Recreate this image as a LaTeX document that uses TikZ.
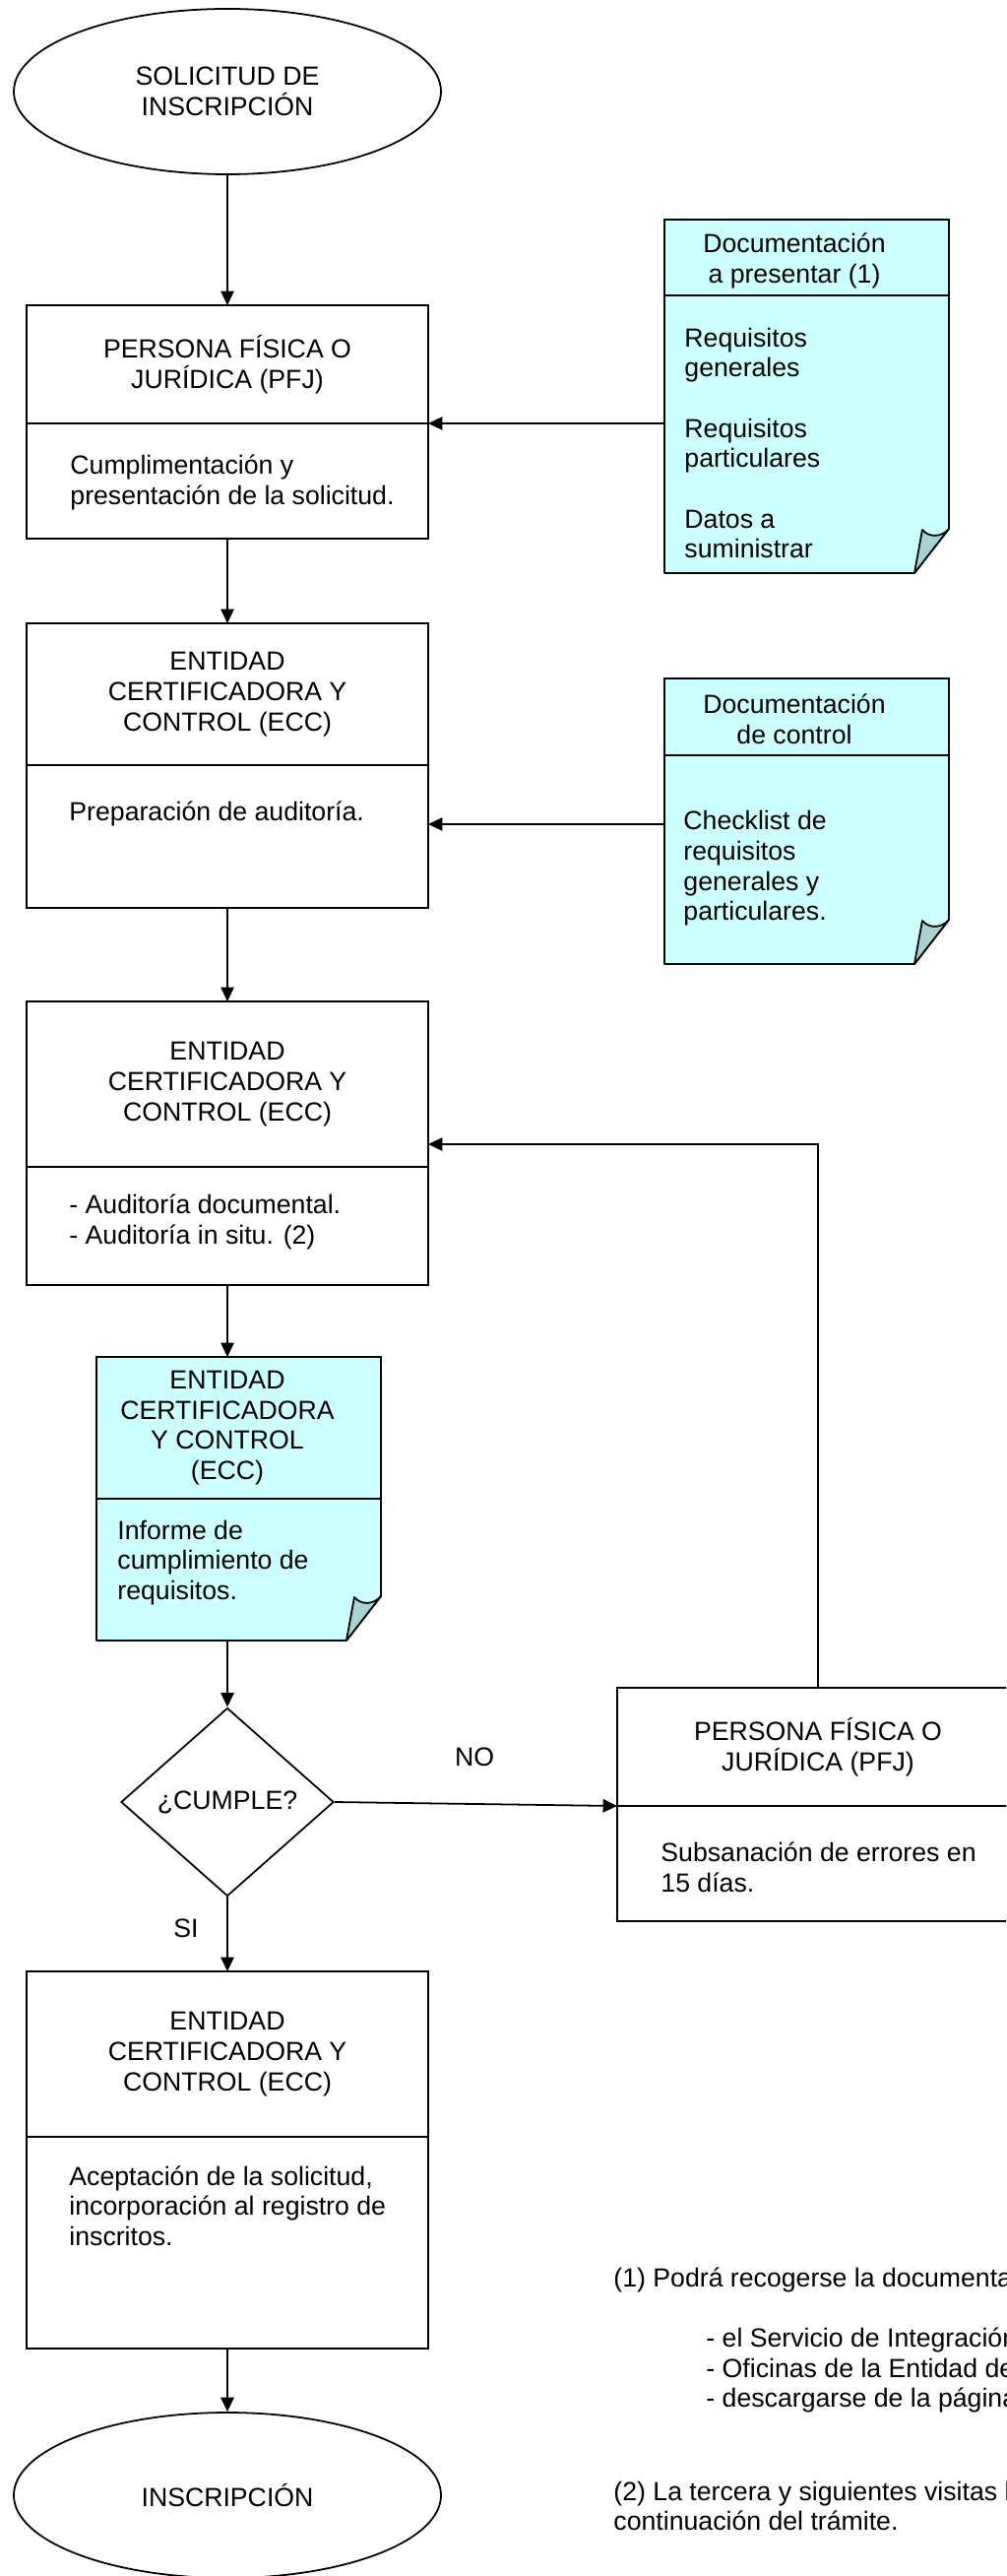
\documentclass[tikz,border=0pt]{standalone}
\usepackage{fontspec}
\setmainfont{Liberation Sans}
\usetikzlibrary{shapes.geometric, arrows.meta, calc, positioning}

\definecolor{notecyan}{HTML}{CCFFFF}
\definecolor{foldgrey}{HTML}{A9D3D3}

% cyan sheet with the folded corner
\newcommand{\notesheet}[1]{%
    \filldraw[line width=0.8pt, fill=notecyan, line join=round] (#1.north west) -- (#1.north east)
        -- ($(#1.south east)+(0,-45)$) -- ($(#1.south east)+(-35,0)$) -- (#1.south west) -- cycle;
    \filldraw[line width=0.8pt, fill=foldgrey, line join=round] ($(#1.south east)+(0,-45)$)
        .. controls ($(#1.south east)+(-8,-36)$) and ($(#1.south east)+(-20,-36)$) .. ($(#1.south east)+(-27,-44)$)
        -- ($(#1.south east)+(-35,0)$) -- cycle;
}

\begin{document}
\begin{tikzpicture}[x=0.45pt, y=-0.45pt, font=\fontsize{12}{13.8}\selectfont,
    box/.style={draw, line width=0.8pt, minimum width=183.6pt, inner sep=0pt, outer sep=0pt, align=center},
    notehead/.style={box, fill=notecyan, minimum width=130pt},
    noteslot/.style={minimum width=130pt, inner sep=0pt, outer sep=0pt},
    term/.style={draw, ellipse, line width=0.8pt, minimum width=195.3pt, minimum height=75.6pt, inner sep=0pt, align=center},
    decision/.style={draw, diamond, line width=0.8pt, minimum width=97.2pt, minimum height=86pt, inner sep=0pt},
    txt/.style={anchor=west, inner sep=0pt, align=left},
    arr/.style={-{Triangle[length=6.5pt, width=6pt]}, line width=0.8pt}]

    \path[use as bounding box] (0,0) rectangle (1022,2616);
    \clip (0,0) rectangle (1022,2616);

    % start
    \node[term] (start) at (231,93) {SOLICITUD DE\\INSCRIPCIÓN};

    % PFJ presents the application
    \node[box, minimum height=54pt] (pfj) at (231,370) {PERSONA FÍSICA O\\JURÍDICA (PFJ)};
    \node[box, minimum height=52.65pt, below=0pt of pfj] (pfjb) {};
    \node[txt] (pfjtxt) at (71,490) {Cumplimentación y\\presentación de la solicitud.};

    % documents to present
    \node[notehead, minimum height=34.65pt] (doc1) at (819.5,261.5) {};
    \node[noteslot, minimum height=126.9pt, below=0pt of doc1] (doc1b) {};
    \notesheet{doc1b}
    \node[align=center, inner sep=0pt] (doc1lbl) at (807,265) {Documentación\\a presentar (1)};
    \node[txt] (doc1txt) at (695,450) {Requisitos\\generales\\[13.8pt]Requisitos\\particulares\\[13.8pt]Datos a\\suministrar};

    % ECC prepares the audit
    \node[box, minimum height=64.8pt] (ecc1) at (231,705) {ENTIDAD\\CERTIFICADORA Y\\CONTROL (ECC)};
    \node[box, minimum height=65.25pt, below=0pt of ecc1] (ecc1b) {};
    \node[txt] (ecc1txt) at (70,826) {Preparación de auditoría.};

    % control documents
    \node[notehead, minimum height=35.1pt] (doc2) at (819.5,728) {};
    \node[noteslot, minimum height=95.4pt, below=0pt of doc2] (doc2b) {};
    \notesheet{doc2b}
    \node[align=center, inner sep=0pt] (doc2lbl) at (807,730) {Documentación\\de control};
    \node[txt] (doc2txt) at (694,882) {Checklist de\\requisitos\\generales y\\particulares.};

    % audits
    \node[box, minimum height=75.6pt] (ecc2) at (231,1101) {ENTIDAD\\CERTIFICADORA Y\\CONTROL (ECC)};
    \node[box, minimum height=54pt, below=0pt of ecc2] (ecc2b) {};
    \node[txt] (ecc2txt) at (70,1241) {- Auditoría documental.\\- Auditoría in situ. (2)};

    % report
    \node[notehead, minimum height=64.8pt] (ecc3) at (242.5,1450) {};
    \node[noteslot, minimum height=64.8pt, below=0pt of ecc3] (ecc3b) {};
    \notesheet{ecc3b}
    \node[align=center, inner sep=0pt] (ecc3lbl) at (231,1450) {ENTIDAD\\CERTIFICADORA\\Y CONTROL\\(ECC)};
    \node[txt] (ecc3txt) at (119,1587) {Informe de\\cumplimiento de\\requisitos.};

    % decision
    \node[decision] (dia) at (231,1830) {¿CUMPLE?};
    \node (nolbl) at (482,1784) {NO};
    \node (silbl) at (189,1958) {SI};

    % corrections
    \node[box, minimum height=54pt] (pfj2) at (831,1774) {PERSONA FÍSICA O\\JURÍDICA (PFJ)};
    \node[box, minimum height=52.65pt, below=0pt of pfj2] (pfj2b) {};
    \node[txt] (pfj2txt) at (671,1896) {Subsanación de errores en\\15 días.};

    % acceptance
    \node[box, minimum height=75.6pt] (ecc4) at (231,2086) {ENTIDAD\\CERTIFICADORA Y\\CONTROL (ECC)};
    \node[box, minimum height=96.75pt, below=0pt of ecc4] (ecc4b) {};
    \node[txt] (ecc4txt) at (70,2240) {Aceptación de la solicitud,\\incorporación al registro de\\inscritos.};

    \node[term] (finish) at (231,2534) {INSCRIPCIÓN};

    % notes
    \node[txt] (fn1) at (623,2315) {(1) Podrá recogerse la documentación};
    \node[txt] (fn1list) at (717,2407) {- el Servicio de Integración\\- Oficinas de la Entidad de\\- descargarse de la página};
    \node[txt] (fn2) at (623,2545) {(2) La tercera y siguientes visitas las\\continuación del trámite.};

    % connectors
    \draw[arr] (start.south) -- (pfj.north);
    \draw[arr] (doc1b.west |- pfj.south) -- (pfj.south east);
    \draw[arr] (pfjb.south) -- (ecc1.north);
    \coordinate (doc2ar) at ($(doc2b.west)+(0,-36)$);
    \draw[arr] (doc2ar) -- (doc2ar -| ecc1b.east);
    \draw[arr] (ecc1b.south) -- (ecc2.north);
    \draw[arr] (ecc2b.south) -- (ecc2b.south |- ecc3.north);
    \draw[arr] (dia.north |- ecc3b.south) -- (dia.north);
    \draw[arr] (dia.east) -- (pfj2.south west);
    \draw[arr] (pfj2.north) |- ($(ecc2.south east)+(0,-23)$);
    \draw[arr] (dia.south) -- (ecc4.north);
    \draw[arr] (ecc4b.south) -- (finish.north);
\end{tikzpicture}
\end{document}
